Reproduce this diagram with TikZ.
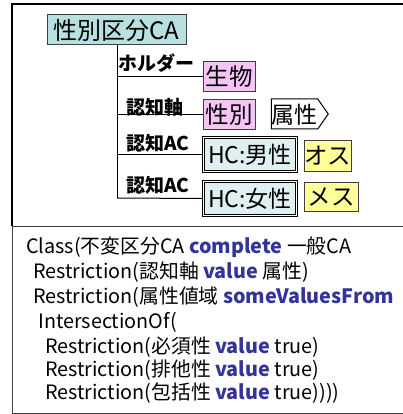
\documentclass[tikz,border=0pt]{standalone}
\usepackage{fontspec}
\setmainfont{Noto Sans CJK JP}
\usetikzlibrary{shapes.symbols}
\definecolor{tealA}{HTML}{B8E0E0}
\definecolor{tealB}{HTML}{E0F0F0}
\definecolor{pinkA}{HTML}{F8C4F8}
\definecolor{yellowA}{HTML}{FFFF99}
\definecolor{kwblue}{HTML}{333399}
\definecolor{edgegrey}{HTML}{404040}
\tikzset{
  cls/.style={draw=edgegrey, line width=1pt, fill=tealA, inner sep=0pt, font=\fontsize{24}{26}\selectfont},
  pinkbox/.style={draw=edgegrey, line width=1pt, fill=pinkA, inner sep=0pt, minimum width=52pt, minimum height=30pt, font=\fontsize{23.5}{25}\selectfont},
  ybox/.style={draw=edgegrey, line width=1pt, fill=yellowA, inner sep=0pt, minimum height=30pt, font=\fontsize{23.5}{25}\selectfont},
  hcbox/.style={draw=black, line width=1pt, double=white, double distance=1.6pt, fill=tealB, inner sep=0pt, minimum width=93pt, minimum height=34pt, font=\fontsize{23}{25}\selectfont},
  rel/.style={inner sep=0pt, font=\bfseries\fontsize{19}{21}\selectfont},
  link/.style={draw=black, line width=1pt},
  code/.style={anchor=west, inner sep=0pt, font=\fontsize{19.8}{22}\selectfont},
}
\newcommand{\kw}[1]{\textcolor{kwblue}{\bfseries #1}}
\begin{document}
\begin{tikzpicture}[x=1pt,y=-1pt]
\useasboundingbox (0,0) rectangle (403,414);
\fill[white] (0,0) rectangle (403,414);
% frames
\draw[line width=2pt,black] (403,4) -- (12,4) -- (12,226);
\draw[line width=1pt,edgegrey] (12,226) -- (403,226);
\draw[line width=1pt,edgegrey] (12,226) -- (12,413) -- (403,413);
% nodes
\node[cls, minimum width=139pt, minimum height=30pt] (top) at (116.5,30) {性別区分CA};
\node[pinkbox] (bio) at (229,77) {生物};
\node[pinkbox] (sex) at (229,115) {性別};
\node[draw=black, line width=1pt, fill=white, signal, signal to=east, signal pointer angle=110, inner sep=0pt, minimum width=57pt, minimum height=30pt, font=\fontsize{23}{25}\selectfont, text depth=0pt] (attr) at (294.5,114) {属性\hspace{8pt}};
\node[hcbox] (male) at (250,154.5) {HC:男性};
\node[hcbox] (female) at (250,198.5) {HC:女性};
\node[ybox, minimum width=47pt] (osu) at (327.5,156) {オス};
\node[ybox, minimum width=54pt, minimum height=29pt] (mesu) at (331,196.5) {メス};
% connectors
\coordinate (vend) at (117,198);
\draw[link] (top.south -| vend) -- (vend);
\draw[link] (bio.west -| vend) -- (bio.west);
\draw[link] (sex.west -| vend) -- (sex.west);
\draw[link] (male.west -| vend) -- (male.west);
\draw[link] (vend) -- (female.west);
% relation labels
\node[rel] (l1) at (156,63) {ホルダー};
\node[rel] (l2) at (155,107) {認知軸};
\node[rel] (l3) at (158,143) {認知AC};
\node[rel] (l4) at (158,185) {認知AC};
% code text
\node[code] (c1) at (26,247) {Class(不変区分CA \kw{complete} 一般CA};
\node[code] (c2) at (33,272) {Restriction(認知軸 \kw{value} 属性)};
\node[code] (c3) at (33,297) {Restriction(属性値域 \kw{someValuesFrom}};
\node[code] (c4) at (38,322) {IntersectionOf(};
\node[code] (c5) at (45,347) {Restriction(必須性 \kw{value} true)};
\node[code] (c6) at (45,370) {Restriction(排他性 \kw{value} true)};
\node[code] (c7) at (45,393) {Restriction(包括性 \kw{value} true))))};
\end{tikzpicture}
\end{document}
